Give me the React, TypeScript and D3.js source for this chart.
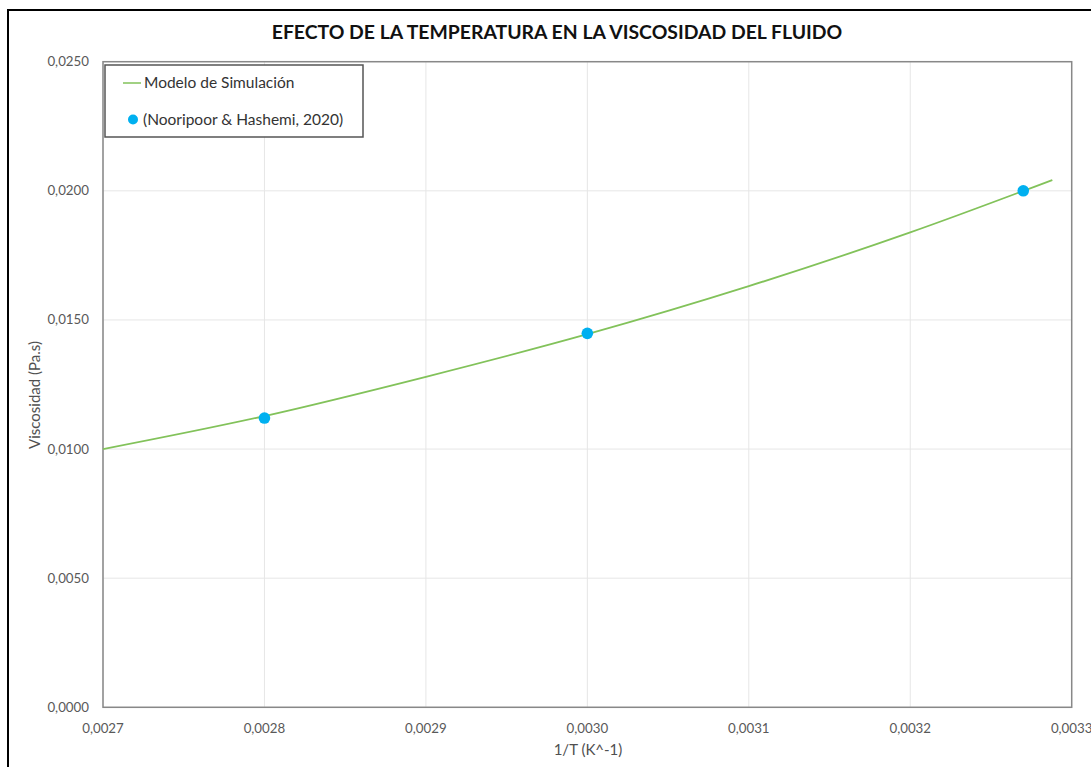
import React from "react";
import * as d3 from "d3";

const xTicks = [0.0027, 0.0028, 0.0029, 0.003, 0.0031, 0.0032, 0.0033];
const yTicks = [0, 0.005, 0.01, 0.015, 0.02, 0.025];
// Simulation model line
const modelX = [0.0027, 0.0028, 0.0029, 0.003, 0.0031, 0.0032, 0.003288];
const modelY = [0.01, 0.01128, 0.0128, 0.01445, 0.01631, 0.01839, 0.02042];
// Experimental points (Nooripoor & Hashemi, 2020)
const expX = [0.0028, 0.003, 0.00327];
const expY = [0.0112, 0.01448, 0.02];

const fmt = (v: number) => v.toFixed(4).replace(".", ",");

export default function App() {
  const W = 1091, H = 767;
  const L = 103, R = 1071.7, T = 61.7, B = 707.3;
  const x = d3.scaleLinear().domain([0.0027, 0.0033]).range([L, R]);
  const y = d3.scaleLinear().domain([0, 0.025]).range([B, T]);
  const line = d3
    .line<number>()
    .x((_, i) => x(modelX[i]))
    .y((d) => y(d))
    .curve(d3.curveMonotoneX);
  const font = "Lato, 'Open Sans', sans-serif";
  return (
    <svg width={W} height={H} style={{ position: "absolute", left: 0, top: 0 }} fontFamily={font}>
      <rect x={0} y={0} width={W} height={H} fill="#fff" />
      <rect x={8} y={10} width={W + 10} height={H + 10} fill="none" stroke="#000" strokeWidth={2} />
      <text x={557} y={39} textAnchor="middle" fontWeight="bold" fontSize={19.4} fill="#111">
        EFECTO DE LA TEMPERATURA EN LA VISCOSIDAD DEL FLUIDO
      </text>
      {xTicks.map((t) => (
        <line key={"gx" + t} x1={x(t)} x2={x(t)} y1={T} y2={B} stroke="#e6e6e6" strokeWidth={1} />
      ))}
      {yTicks.map((t) => (
        <line key={"gy" + t} x1={L} x2={R} y1={y(t)} y2={y(t)} stroke="#e6e6e6" strokeWidth={1} />
      ))}
      <rect x={L} y={T} width={R - L} height={B - T} fill="none" stroke="#888" strokeWidth={1.5} />
      {xTicks.map((t) => (
        <text key={"tx" + t} x={x(t)} y={733} textAnchor="middle" fontSize={13.3} fill="#595959">
          {fmt(t)}
        </text>
      ))}
      {yTicks.map((t) => (
        <text key={"ty" + t} x={89} y={y(t) + 4.5} textAnchor="end" fontSize={13.3} fill="#595959">
          {fmt(t)}
        </text>
      ))}
      <text x={588} y={755} textAnchor="middle" fontSize={15} fill="#505050">
        1/T (K^-1)
      </text>
      <text
        transform={`translate(40,395) rotate(-90)`}
        textAnchor="middle"
        fontSize={15}
        fill="#505050"
      >
        Viscosidad (Pa.s)
      </text>
      <path d={line(modelY) || ""} fill="none" stroke="#82c25a" strokeWidth={1.8} />
      {expX.map((v, i) => (
        <circle key={"p" + i} cx={x(v)} cy={y(expY[i])} r={5.8} fill="#00b0f0" />
      ))}
      <rect x={105} y={65} width={258} height={72} fill="#fff" stroke="#555" strokeWidth={1.5} />
      <line x1={123} x2={141} y1={83} y2={83} stroke="#82c25a" strokeWidth={1.5} />
      <text x={144} y={88} fontSize={15.5} fill="#333">
        Modelo de Simulación
      </text>
      <circle cx={133} cy={119.5} r={5} fill="#00b0f0" />
      <text x={143} y={125} fontSize={15.5} fill="#333">
        (Nooripoor &amp; Hashemi, 2020)
      </text>
    </svg>
  );
}
